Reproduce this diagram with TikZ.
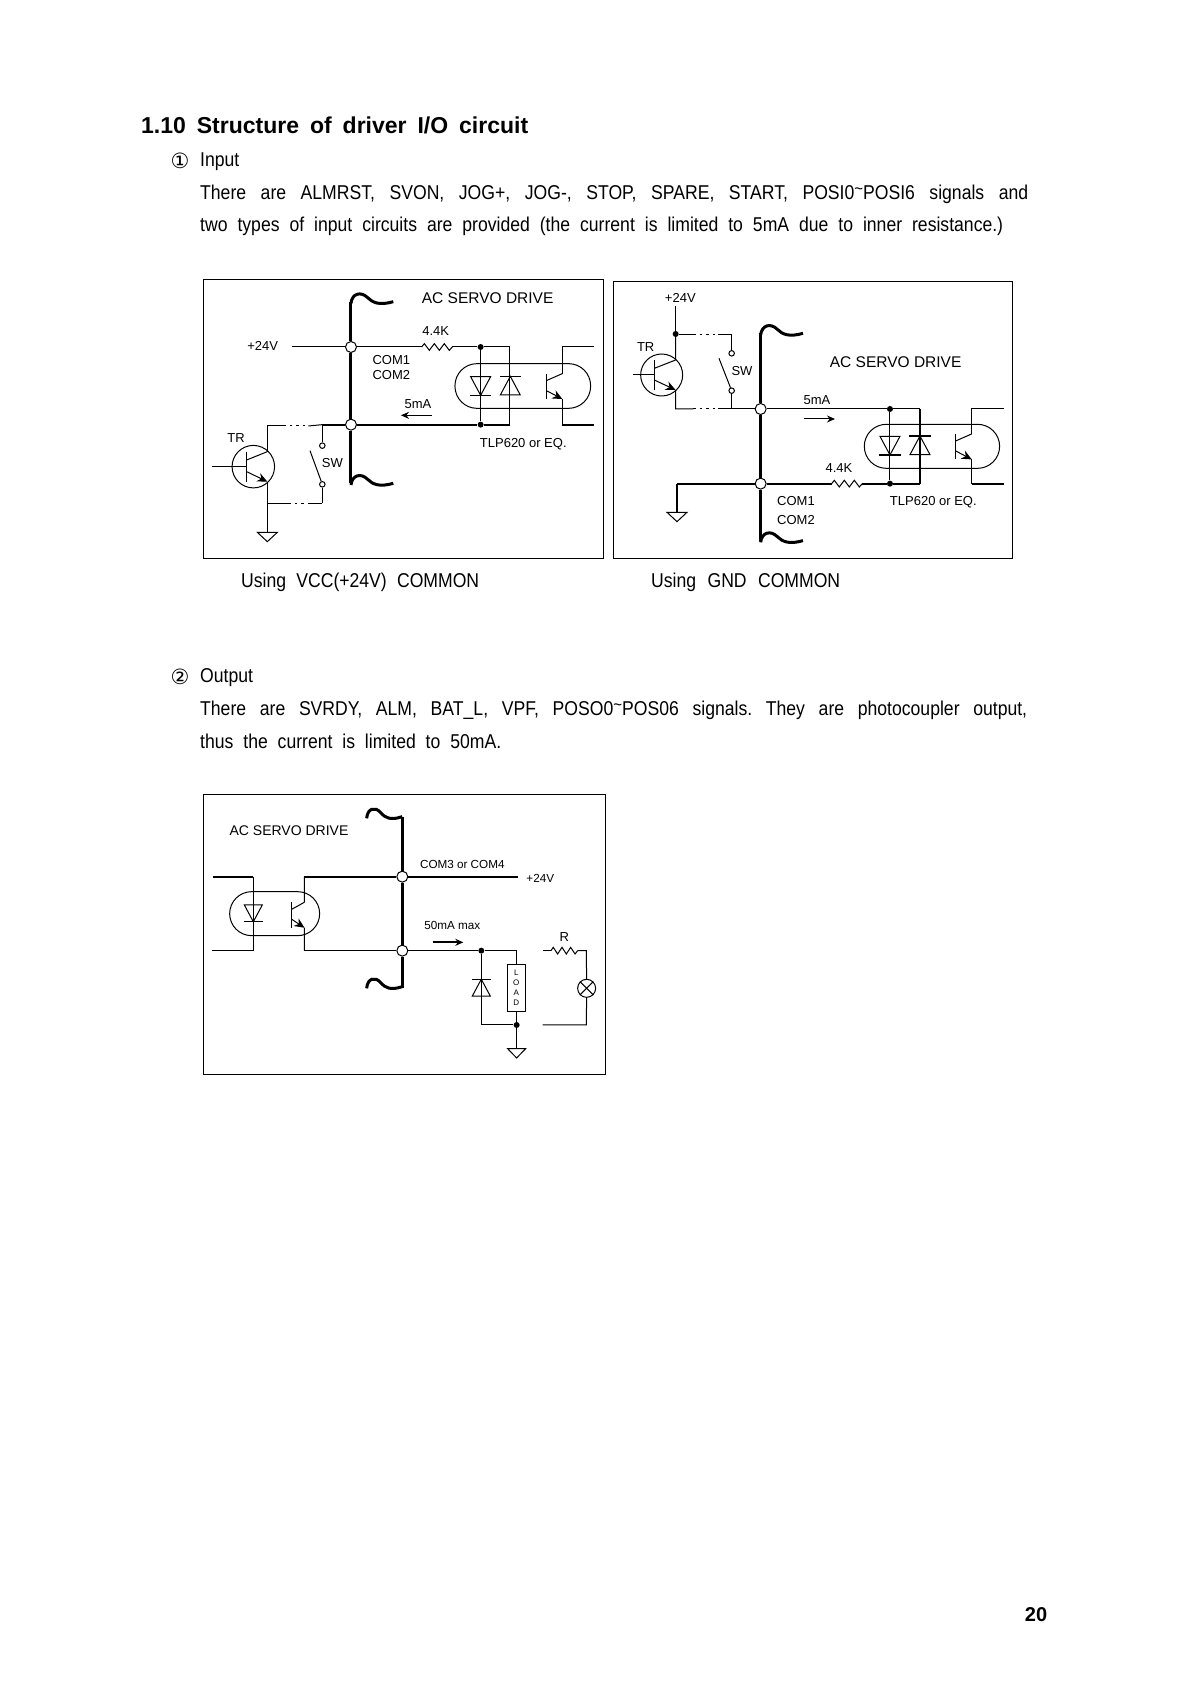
\documentclass[tikz,border=0pt]{standalone}
\usepackage{fontspec}
\usetikzlibrary{positioning, arrows.meta}
\setmainfont{Liberation Sans}
\newfontfamily\bodyfont[FakeStretch=0.88]{Liberation Sans}
\newfontfamily\headfont[FakeStretch=1.0]{Liberation Sans}
\newfontfamily\symfont{DejaVu Sans}
\newcommand{\spreadline}[2]{\frenchspacing\makebox[#1pt][s]{#2}}
\newcommand{\hightilde}{\raisebox{5pt}{\fontsize{17}{17}\selectfont\textasciitilde}}

\begin{document}
\begin{tikzpicture}[x=1pt, y=-1pt, >={Stealth[length=8pt, width=7pt]},
        wire/.style={line width=1pt},
        heavy/.style={line width=1.9pt},
        bus/.style={line width=3pt},
        frame/.style={line width=1pt},
        broken/.style={line width=1pt, dash pattern=on 2.5pt off 4pt},
        junction/.style={circle, draw, fill=white, line width=1pt, inner sep=0pt, minimum size=11pt},
        dot/.style={circle, fill=black, inner sep=0pt, minimum size=6pt},
        contact/.style={circle, draw, fill=white, line width=1pt, inner sep=0pt, minimum size=5.5pt},
        bodytext/.style={inner sep=0pt, anchor=west, font=\fontsize{20}{20}\selectfont\bodyfont},
        biglab/.style={inner sep=0pt, font=\fontsize{15.5}{16}\selectfont},
        lab/.style={inner sep=0pt, font=\fontsize{13}{14}\selectfont},
        minilab/.style={inner sep=0pt, font=\fontsize{11.7}{12}\selectfont},
        capsule/.style={draw, wire, rounded corners=22pt},
        diode/.pic={
            \draw[wire] (-30,-28) -- (30,-28) -- (0,28) -- cycle;
            \draw[line width=1.3pt] (-32,28) -- (32,28);
        },
        ground/.pic={
            \draw[wire] (-30,0) -- (30,0) -- (0,28) -- cycle;
        },
        resistor/.pic={
            \draw[wire] (0,0) -- (8,-10) -- (23,10) -- (38,-10) -- (53,10) -- (68,-10) -- (83,10) -- (92,0);
            \coordinate (-l) at (0,0);
            \coordinate (-r) at (92,0);
        },
        bjt/.pic={
            \draw[line width=1.3pt] (0,-45) -- (0,45);
            \draw[wire] (0,-20) -- (62,-45);
            \draw[wire, -{Stealth[length=10pt, width=9pt]}] (0,15) -- (62,45);
            \coordinate (-c) at (62,-45);
            \coordinate (-e) at (62,45);
            \coordinate (-b) at (0,0);
        },
        squiggle/.pic={
            \draw[bus] (0,5) .. controls (3,-25) and (30,-32) .. (50,-12) .. controls (65,3) and (85,12) .. (127,0);
        },
    ]
    \useasboundingbox (0,0) rectangle (1190,1682);

    % page text
    \node[inner sep=0pt, anchor=west, font=\fontsize{23}{23}\selectfont\headfont\bfseries] (title) at (141,125)
        {\spreadline{387}{1.10 Structure of driver I/O circuit}};
    \node[inner sep=0pt, font=\fontsize{21}{21}\selectfont\symfont] (mark1) at (180,161) {①};
    \node[bodytext] (input) at (200,162) {Input};
    \node[bodytext] (line1) at (200,194)
        {\spreadline{828}{There are ALMRST, SVON, JOG+, JOG-, STOP, SPARE, START, POSI0\hightilde POSI6 signals and}};
    \node[bodytext] (line2) at (200,226)
        {\spreadline{803}{two types of input circuits are provided (the current is limited to 5mA due to inner resistance.)}};
    \node[bodytext] (capvcc) at (241,582) {\spreadline{238}{Using VCC(+24V) COMMON}};
    \node[bodytext] (capgnd) at (651,582) {\spreadline{189}{Using GND COMMON}};
    \node[inner sep=0pt, font=\fontsize{21}{21}\selectfont\symfont] (mark2) at (180,677) {②};
    \node[bodytext] (output) at (200,678) {Output};
    \node[bodytext] (line3) at (200,710)
        {\spreadline{827}{There are SVRDY, ALM, BAT\_L, VPF, POSO0\hightilde POS06 signals. They are photocoupler output,}};
    \node[bodytext] (line4) at (200,741)
        {\spreadline{301}{thus the current is limited to 50mA.}};
    \node[inner sep=0pt, font=\fontsize{20}{20}\selectfont\bfseries] (pageno) at (1036,1615) {20};

    % VCC common input
    \begin{scope}[shift={(195,270)}, x=0.3333pt, y=-0.3333pt]
        \draw[frame] (25,28) rectangle (1226,865);
        \node[junction] (a1) at (468,231) {};
        \node[junction] (a2) at (468,464) {};
        \node[dot] (a3) at (857,231) {};
        \node[dot] (a4) at (857,464) {};
        \coordinate (atop) at (468,95);
        \coordinate (abot) at (468,640);
        \draw[bus] (atop) -- (a1) -- (a2) -- (abot);
        \pic at (468,95) {squiggle};
        \pic at (468,640) {squiggle};

        % opto
        \draw[capsule] (780,281) rectangle (1187,415);
        \pic at (857,348) {diode};
        \pic[rotate=180] at (946,347) {diode};
        \pic[xscale=.78, yscale=.85] (aq) at (1054,349) {bjt};
        \coordinate (aout1) at (1197,231);
        \coordinate (aout2) at (1197,464);
        \draw[wire] (aq-c) -- (aq-c |- aout1) -- (aout1);
        \draw[wire] (aq-e) -- (aq-e |- aout2);
        \draw[heavy] (aq-e |- aout2) -- (aout2);

        % +24V side
        \node[lab] (a24v) at (203,227) {+24V};
        \coordinate (afree) at (290,231);
        \pic (ar) at (680,231) {resistor};
        \coordinate (ak) at (945,231);
        \coordinate (am) at (945,464);
        \draw[wire] (afree) -- (a1) -- (ar-l);
        \draw[wire] (ar-r) -- (a3) -- (ak) -- (am);
        \draw[wire] (a3) -- (a4);
        \draw[heavy] (a2) -- (a4) -- (am);

        % switch and transistor
        \coordinate (asw) at (382,464);
        \node[contact] (as1) at (382,527) {};
        \node[contact] (as2) at (382,643) {};
        \coordinate (asb) at (382,700);
        \draw[heavy] (asw) -- (a2);
        \draw[wire] (asw) -- (as1);
        \draw[wire] (as2) -- (asb);
        \draw[wire] (345,542) -- (as2);
        \node[circle, draw, line width=1pt, inner sep=0pt, minimum size=42.5pt] (atr) at (175,590) {};
        \pic (at) at (155,590) {bjt};
        \draw[wire] (52,590) -- (at-b);
        \coordinate (ad1) at (217,468);
        \coordinate (ad2) at (217,700);
        \draw[wire] (at-c) -- (ad1) -- (265,468);
        \draw[broken] (265,468) -- (340,468);
        \draw[wire] (340,468) -- (asw);
        \coordinate (agnd) at (217,787);
        \draw[wire] (at-e) -- (agnd);
        \draw[wire] (ad2) -- (280,700);
        \draw[broken] (280,700) -- (340,700);
        \draw[wire] (340,700) -- (asb);
        \pic at (217,787) {ground};

        % labels
        \node[biglab] (atitle) at (878,85) {AC SERVO DRIVE};
        \node[lab] (aval) at (722,182) {4.4K};
        \node[lab] (acom1) at (589,271) {COM1};
        \node[lab] (acom2) at (589,316) {COM2};
        \node[lab] (ama) at (669,402) {5mA};
        \coordinate (aarr1) at (710,436);
        \coordinate (aarr2) at (618,436);
        \draw[wire, ->] (aarr1) -- (aarr2);
        \node[lab] (atlp) at (985,522) {TLP620 or EQ.};
        \node[lab] (asl) at (412,578) {SW};
        \node[lab] (atl) at (123,505) {TR};
    \end{scope}

    % GND common input
    \begin{scope}[shift={(605,270)}, x=0.3333pt, y=-0.3333pt]
        \draw[frame] (25,35) rectangle (1222,865);
        \node[junction] (b1) at (467,417) {};
        \node[junction] (b2) at (467,641) {};
        \node[dot] (b3) at (855,417) {};
        \node[dot] (b4) at (855,641) {};
        \node[dot] (b5) at (212,192) {};
        \coordinate (btop) at (467,190);
        \coordinate (bbot) at (467,812);
        \draw[bus] (btop) -- (b1) -- (b2) -- (bbot);
        \pic at (467,190) {squiggle};
        \pic at (467,812) {squiggle};

        % opto
        \draw[capsule] (778,463) rectangle (1184,595);
        \pic at (855,527) {diode};
        \pic[rotate=180] at (945,526) {diode};
        \pic[xscale=.78, yscale=.85] (bq) at (1052,530) {bjt};
        \coordinate (bout1) at (1196,417);
        \coordinate (bout2) at (1196,641);
        \draw[wire] (bq-c) -- (bq-c |- bout1) -- (bout1);
        \draw[wire] (bq-e) -- (bq-e |- bout2);
        \draw[heavy] (bq-e |- bout2) -- (bout2);

        % switch and transistor
        \node[lab] (b24v) at (226,84) {+24V};
        \coordinate (bfree) at (212,108);
        \draw[wire] (bfree) -- (b5);
        \node[contact] (bs1) at (380,250) {};
        \node[contact] (bs2) at (380,362) {};
        \coordinate (bsa) at (380,192);
        \coordinate (bsb) at (380,417);
        \draw[wire] (bsa) -- (bs1);
        \draw[wire] (bs2) -- (bsb);
        \draw[wire] (342,265) -- (bs2);
        \draw[wire] (b5) -- (265,192);
        \draw[broken] (265,192) -- (340,192);
        \draw[wire] (340,192) -- (bsa);
        \node[circle, draw, line width=1pt, inner sep=0pt, minimum size=42pt] (btr) at (170,315) {};
        \pic[xscale=1.03] (bt) at (148,315) {bjt};
        \draw[wire] (85,315) -- (bt-b);
        \draw[wire] (bt-c) -- (b5);
        \coordinate (bd2) at (212,417);
        \draw[wire] (bt-e) -- (bd2) -- (265,417);
        \draw[broken] (265,417) -- (340,417);
        \draw[wire] (340,417) -- (b1);

        % load side
        \coordinate (bk) at (945,417);
        \coordinate (bm) at (945,641);
        \draw[wire] (b1) -- (b3) -- (bk);
        \draw[wire] (b3) -- (b4);
        \draw[heavy] (bk) -- (bm);
        \pic (br) at (680,641) {resistor};
        \coordinate (bg) at (216,641);
        \coordinate (bg2) at (216,727);
        \draw[heavy] (b2) -- (bg);
        \draw[heavy] (bg) -- (bg2);
        \draw[heavy] (b2) -- (br-l);
        \draw[heavy] (br-r) -- (b4) -- (bm);
        \pic at (216,727) {ground};

        % labels
        \node[biglab] (btitle) at (872,277) {AC SERVO DRIVE};
        \node[lab] (bval) at (702,593) {4.4K};
        \node[lab] (bcom1) at (573,694) {COM1};
        \node[lab] (bcom2) at (573,750) {COM2};
        \node[lab] (bma) at (636,390) {5mA};
        \coordinate (barr1) at (597,447);
        \coordinate (barr2) at (690,447);
        \draw[wire, ->] (barr1) -- (barr2);
        \node[lab] (btlp) at (985,696) {TLP620 or EQ.};
        \node[lab] (bsl) at (411,302) {SW};
        \node[lab] (btl) at (122,230) {TR};
    \end{scope}

    % output
    \begin{scope}[shift={(195,785)}, x=0.3333pt, y=-0.3333pt]
        \draw[frame] (25,28) rectangle (1232,869);
        \node[junction] (c1) at (622,275) {};
        \node[junction] (c2) at (622,497) {};
        \node[dot] (c3) at (859,497) {};
        \node[dot] (c4) at (965,720) {};
        \coordinate (ctop) at (622,95);
        \coordinate (cbot) at (622,610);
        \draw[bus] (ctop) -- (c1) -- (c2) -- (cbot);
        \pic[xscale=.84] at (515,95) {squiggle};
        \pic[xscale=.84] at (515,605) {squiggle};

        % opto
        \draw[capsule] (104,320) rectangle (374,452);
        \pic[scale=.9] at (175,385) {diode};
        \pic[xscale=.62, yscale=.85] (cq) at (290,390) {bjt};
        \coordinate (cin1) at (55,275);
        \coordinate (cin2) at (50,497);
        \coordinate (ck1) at (175,275);
        \coordinate (ck2) at (175,497);
        \draw[heavy] (cin1) -- (ck1);
        \draw[wire] (ck1) -- (ck2) -- (cin2);
        \coordinate (cc) at (328,275);
        \coordinate (ce) at (328,497);
        \draw[wire] (cq-c) -- (cc);
        \draw[wire] (cq-e) -- (ce);
        \coordinate (cvcc) at (968,275);
        \draw[heavy] (cc) -- (c1) -- (cvcc);
        \draw[wire] (ce) -- (c2);

        % load
        \node[draw, wire, inner sep=0pt, minimum width=17.7pt, minimum height=46.7pt] (cload) at (964.5,610) {};
        \draw[heavy] (cload.north west) -- (cload.north east);
        \node[inner sep=0pt, font=\fontsize{8}{8}\selectfont] (cl1) at (964,562) {L};
        \node[inner sep=0pt, font=\fontsize{8}{8}\selectfont] (cl2) at (964,592) {O};
        \node[inner sep=0pt, font=\fontsize{8}{8}\selectfont] (cl3) at (964,622) {A};
        \node[inner sep=0pt, font=\fontsize{8}{8}\selectfont] (cl4) at (964,652) {D};
        \coordinate (ct) at (965,497);
        \coordinate (cd) at (859,720);
        \coordinate (cg) at (965,791);
        \draw[wire] (c2) -- (c3) -- (ct) -- (cload.north -| ct);
        \draw[wire] (c3) -- (cd) -- (c4);
        \draw[wire] (cload.south -| ct) -- (c4) -- (cg);
        \pic[scale=.9] at (859,608) [rotate=180] {diode};
        \pic[xscale=.9] at (965,791) {ground};

        % lamp
        \coordinate (cr1) at (1043,497);
        \coordinate (cr2) at (1174,497);
        \coordinate (cr3) at (1174,720);
        \coordinate (cr4) at (1043,720);
        \pic[xscale=.87] (cr) at (1068,497) {resistor};
        \node[circle, draw, line width=1pt, inner sep=0pt, minimum size=18pt] (clamp) at (1175,610) {};
        \draw[wire] (clamp.north west) -- (clamp.south east);
        \draw[wire] (clamp.north east) -- (clamp.south west);
        \draw[wire] (cr1) -- (cr-l);
        \draw[wire] (cr-r) -- (cr2) -- (clamp.north);
        \draw[wire] (clamp.south) -- (cr3) -- (cr4);

        % labels
        \node[inner sep=0pt, font=\fontsize{14}{15}\selectfont] (ctitle) at (282,137) {AC SERVO DRIVE};
        \node[minilab] (ccom) at (802,237) {COM3 or COM4};
        \node[minilab] (c24v) at (1036,279) {+24V};
        \node[minilab] (cma) at (772,420) {50mA max};
        \coordinate (carr1) at (713,472);
        \coordinate (carr2) at (805,472);
        \draw[heavy, ->] (carr1) -- (carr2);
        \node[lab] (crl) at (1108,455) {R};
    \end{scope}
\end{tikzpicture}
\end{document}
